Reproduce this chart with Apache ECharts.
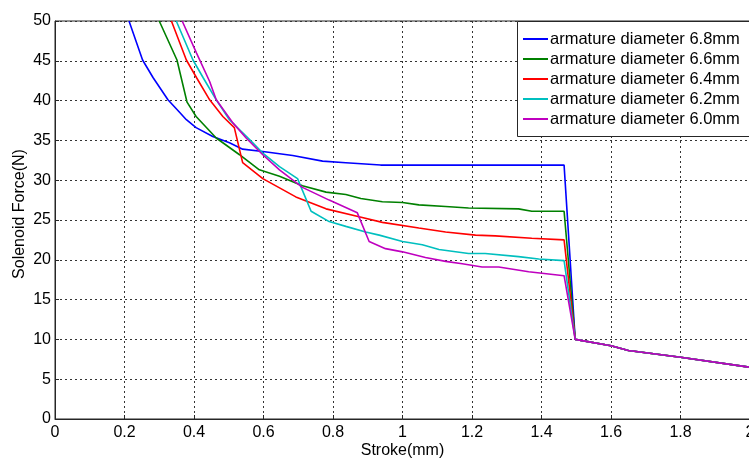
<!DOCTYPE html>
<html>
<head>
<meta charset="utf-8">
<script src="https://cdn.jsdelivr.net/npm/echarts@6/dist/echarts.min.js"></script>
<style>
html,body{margin:0;padding:0;background:#fff;}
#chart{width:749px;height:458px;}
</style>
</head>
<body>
<div id="chart"></div>
<script>
var seriesNames = ['armature diameter 6.8mm','armature diameter 6.6mm','armature diameter 6.4mm','armature diameter 6.2mm','armature diameter 6.0mm'];
var xTicks = [0,0.2,0.4,0.6,0.8,1,1.2,1.4,1.6,1.8,2];
var yTicks = [0,5,10,15,20,25,30,35,40,45,50];

var stroke68 = [0.213,0.252,0.282,0.325,0.359,0.378,0.406,0.454,0.502,0.54,0.598,0.684,0.77,0.837,0.937,1.465];
var force68  = [50,45.1,42.9,40.1,38.5,37.6,36.6,35.5,34.7,33.9,33.6,33.1,32.4,32.2,31.9,31.9];

var stroke66 = [0.3,0.351,0.380,0.406,0.464,0.531,0.588,0.646,0.712,0.78,0.837,0.88,0.942,1.0,1.047,1.124,1.19,1.334,1.372,1.465];
var force66  = [50,45.1,39.8,38.0,35.3,33.2,31.3,30.5,29.3,28.5,28.2,27.7,27.3,27.2,26.9,26.7,26.5,26.4,26.1,26.1];

var stroke64 = [0.335,0.378,0.407,0.445,0.483,0.516,0.54,0.598,0.693,0.78,0.875,0.942,1.047,1.124,1.21,1.267,1.372,1.465];
var force64  = [50,45.1,42.9,40.1,38.0,36.6,32.2,30.2,27.9,26.4,25.4,24.7,24.0,23.5,23.1,23.0,22.7,22.5];

var stroke62 = [0.349,0.397,0.426,0.464,0.502,0.56,0.598,0.646,0.698,0.737,0.789,0.837,0.894,0.933,1.0,1.057,1.105,1.19,1.238,1.334,1.392,1.465];
var force62  = [50,45.1,42.9,40.1,37.6,35.1,33.4,31.7,30.2,26.1,24.8,24.2,23.5,23.1,22.3,21.9,21.3,20.8,20.8,20.4,20.1,19.9];

var stroke60 = [0.366,0.407,0.445,0.464,0.512,0.55,0.598,0.646,0.712,0.789,0.870,0.904,0.951,1.0,1.066,1.124,1.172,1.229,1.277,1.363,1.465];
var force60  = [50,46.0,42.4,40.1,37.2,35.3,33.2,31.3,29.1,27.5,25.9,22.3,21.4,21.0,20.3,19.8,19.5,19.1,19.1,18.5,18.0];

// shared tail after the drop at 1.5 mm
var tailStroke = [1.497,1.6,1.65,1.8,2.0];
var tailForce  = [10,9.2,8.6,7.75,6.5];

var colors = ['#0000ff','#008000','#ff0000','#00bfbf','#bf00bf'];

function pairs(xs, ys){
  var xx = xs.concat(tailStroke), yy = ys.concat(tailForce), out = [];
  for (var i=0;i<xx.length;i++) out.push([xx[i], yy[i]]);
  return out;
}
var allData = [pairs(stroke68,force68),pairs(stroke66,force66),pairs(stroke64,force64),pairs(stroke62,force62),pairs(stroke60,force60)];

var font = 'Liberation Sans, Arial, sans-serif';
var chart = echarts.init(document.getElementById('chart'), null, {renderer:'canvas'});
var option = {
  animation:false,
  backgroundColor:'#ffffff',
  color:colors,
  grid:{left:55,right:-1,top:21,bottom:39,show:true,borderColor:'#262626',borderWidth:1,backgroundColor:'#ffffff',
    outerBoundsMode:'none',containLabel:false},
  graphic:[{type:'rect',left:517,top:21,shape:{width:260,height:115},
    style:{fill:'#ffffff',stroke:'#262626',lineWidth:1},z:90}],
  legend:{
    orient:'vertical',left:518,top:21,
    padding:[8,0,7,5],
    icon:'rect',itemWidth:25,itemHeight:2,itemGap:0,
    textStyle:{fontFamily:font,fontSize:16.5,color:'#000',lineHeight:20,padding:[0,0,0,-3]},
    z:100,
    data:seriesNames
  },
  xAxis:{
    type:'value',min:0,max:2,interval:0.2,
    name:'Stroke(mm)',nameLocation:'middle',nameGap:24,nameMoveOverlap:false,
    nameTextStyle:{fontFamily:font,fontSize:16,color:'#000'},
    axisLine:{show:true,lineStyle:{color:'#262626'}},
    axisTick:{show:true,inside:true,length:4,lineStyle:{color:'#262626'}},
    axisLabel:{fontFamily:font,fontSize:16,color:'#000',margin:6,showMaxLabel:true,hideOverlap:false,
      formatter:function(v){ for (var i=0;i<xTicks.length;i++){ if (Math.abs(xTicks[i]-v)<1e-6) return String(xTicks[i]); } return ''; }},
    splitLine:{show:true,lineStyle:{color:'#333',type:[2,3],width:1}}
  },
  yAxis:{
    type:'value',min:0,max:50,interval:5,
    name:'Solenoid Force(N)',nameLocation:'middle',nameGap:27,nameMoveOverlap:false,
    nameTextStyle:{fontFamily:font,fontSize:16,color:'#000',padding:[0,0,0,12]},
    axisLine:{show:true,lineStyle:{color:'#262626'}},
    axisTick:{show:true,inside:true,length:4,lineStyle:{color:'#262626'}},
    axisLabel:{fontFamily:font,fontSize:16,color:'#000',margin:4,
      formatter:function(v){ for (var i=0;i<yTicks.length;i++){ if (Math.abs(yTicks[i]-v)<1e-6) return String(yTicks[i]); } return ''; }},
    splitLine:{show:true,lineStyle:{color:'#333',type:[2,3],width:1}}
  },
  series: seriesNames.map(function(n,i){
    return {name:n,type:'line',data:allData[i],symbol:'none',showSymbol:false,
      lineStyle:{width:1.6,color:colors[i]},itemStyle:{color:colors[i]},clip:true,z:2+i};
  })
};
chart.setOption(option);
</script>
</body>
</html>
